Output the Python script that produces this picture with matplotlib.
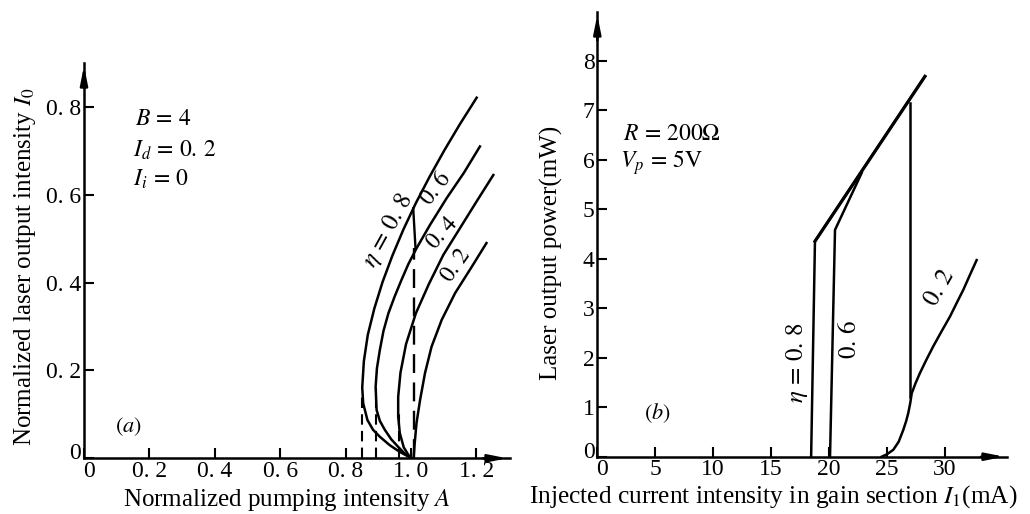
import matplotlib
matplotlib.use('Agg')
import matplotlib.pyplot as plt
from matplotlib.transforms import ScaledTranslation

plt.rcParams['font.family'] = ['Liberation Serif', 'DejaVu Serif']
plt.rcParams['mathtext.fontset'] = 'stix'

# ---- panel (a): normalized output vs pumping intensity ----
a_eta08 = [1.201, 1.150, 1.102, 1.057, 1.015, 0.977, 0.943, 0.913, 0.888, 0.868, 0.856,
           0.851, 0.854, 0.867, 0.884, 0.905, 0.935, 0.965, 1.002]
i_eta08 = [0.821, 0.761, 0.701, 0.641, 0.581, 0.521, 0.461, 0.401, 0.341, 0.281, 0.221,
           0.161, 0.125, 0.087, 0.065, 0.049, 0.030, 0.015, 0.0]

a_eta06 = [1.211, 1.162, 1.109, 1.058, 1.017, 0.992, 0.971, 0.950, 0.931, 0.916, 0.905,
           0.896, 0.892, 0.895, 0.905, 0.920, 0.940, 0.961, 0.982, 1.002]
i_eta06 = [0.710, 0.650, 0.592, 0.531, 0.478, 0.442, 0.406, 0.368, 0.330, 0.290, 0.247,
           0.205, 0.163, 0.110, 0.085, 0.065, 0.043, 0.026, 0.010, 0.0]

a_eta04 = [1.252, 1.201, 1.150, 1.099, 1.055, 1.015, 0.985, 0.968, 0.961, 0.961, 0.966,
           0.978, 0.992, 1.002]
i_eta04 = [0.645, 0.585, 0.524, 0.463, 0.397, 0.330, 0.260, 0.195, 0.140, 0.095, 0.057,
           0.025, 0.008, 0.0]

a_eta02 = [1.231, 1.186, 1.135, 1.094, 1.063, 1.043, 1.028, 1.017, 1.011, 1.008]
i_eta02 = [0.490, 0.436, 0.376, 0.315, 0.254, 0.194, 0.133, 0.080, 0.030, 0.0]

# dashed thresholds: A position and top of each dash
dash_a = [0.851, 0.892, 0.963]
dash_top = [0.150, 0.160, 0.110]
jump_a = 1.010
jump_i = [0.0, 0.478, 0.569]

a_ticks = [0, 0.2, 0.4, 0.6, 0.8, 1.0, 1.2]
a_ticklabels = ['0', '0. 2', '0. 4', '0. 6', '0. 8', '1. 0', '1. 2']
i_ticks = [0, 0.2, 0.4, 0.6, 0.8]
i_ticklabels = ['0', '0. 2', '0. 4', '0. 6', '0. 8']

# ---- panel (b): output power vs injected current ----
cur_eta08 = [18.45, 18.78, 28.27]
pow_eta08 = [0.0, 4.35, 7.68]
cur_eta06 = [20.08, 20.51, 22.81]
pow_eta06 = [0.0, 4.58, 5.73]
cur_eta02 = [24.54, 25.0, 25.54, 26.0, 26.40, 26.65, 26.83, 27.0, 27.13, 27.45, 27.84,
             28.4, 28.99, 29.7, 30.43, 31.0, 31.58, 32.15, 32.73]
pow_eta02 = [0.0, 0.05, 0.14, 0.30, 0.54, 0.72, 0.88, 1.08, 1.28, 1.48, 1.69,
             1.96, 2.23, 2.53, 2.83, 3.10, 3.37, 3.67, 3.97]
jump_cur = 26.98
jump_pow = [1.20, 7.15]

cur_ticks = [0, 5, 10, 15, 20, 25, 30]
pow_ticks = [0, 1, 2, 3, 4, 5, 6, 7, 8]

W, H = 1030, 514
fig = plt.figure(figsize=(W / 100, H / 100), dpi=100)

# axes placed in pixel terms
ax1 = fig.add_axes([84 / W, (H - 458.3) / H, 426 / W, 395.3 / H])
ax2 = fig.add_axes([597.3 / W, (H - 456.7) / H, 409.7 / W, 444.7 / H])


def style_axes(ax):
    for s in ['top', 'right']:
        ax.spines[s].set_visible(False)
    for s in ['left', 'bottom']:
        ax.spines[s].set_linewidth(1.8)
    ax.tick_params(direction='in', length=7, width=1.5, labelsize=17, pad=2)
    # arrow heads on the axes
    ax.annotate('', xy=(1.0, 0), xytext=(0.93, 0), xycoords='axes fraction',
                arrowprops=dict(arrowstyle='-|>,head_length=1.1,head_width=0.22', color='k', lw=1.8))
    ax.annotate('', xy=(0, 1.0), xytext=(0, 0.93), xycoords='axes fraction',
                arrowprops=dict(arrowstyle='-|>,head_length=1.1,head_width=0.22', color='k', lw=1.8))


def nudge_zero_labels(ax):
    # keep the two "0" labels at the origin apart, as in the print
    fig.canvas.draw()
    xl = ax.get_xticklabels()[0]
    xl.set_transform(xl.get_transform() + ScaledTranslation(0.05, 0, fig.dpi_scale_trans))
    yl = ax.get_yticklabels()[0]
    yl.set_transform(yl.get_transform() + ScaledTranslation(0, 0.07, fig.dpi_scale_trans))


lw = 1.8
ax1.plot(a_eta08, i_eta08, color='k', lw=lw)
ax1.plot(a_eta06, i_eta06, color='k', lw=lw)
ax1.plot(a_eta04, i_eta04, color='k', lw=lw)
ax1.plot(a_eta02, i_eta02, color='k', lw=lw)
for a, top in zip(dash_a, dash_top):
    ax1.plot([a, a], [0, top], color='k', lw=1.5, ls=(0, (5, 3)))
ax1.plot([jump_a, jump_a], jump_i[:2], color='k', lw=1.7, ls=(0, (8, 4)))
ax1.plot([jump_a + 0.004, jump_a - 0.003], jump_i[1:], color='k', lw=1.7)

ax1.set_xlim(0, 1.303)
ax1.set_ylim(0, 0.90)
ax1.set_xticks(a_ticks)
ax1.set_xticklabels(a_ticklabels)
ax1.set_yticks(i_ticks)
ax1.set_yticklabels(i_ticklabels)
style_axes(ax1)

ax1.text(0.156, 0.771, r'$B\,=\,4$', fontsize=17, va='center')
ax1.text(0.150, 0.702, r'$I_d\,=\,0.\,2$', fontsize=17, va='center')
ax1.text(0.150, 0.634, r'$I_i\,=\,0$', fontsize=17, va='center')
ax1.text(0.135, 0.072, r'$(a)$', fontsize=16, ha='center', va='center')
ax1.text(0.931, 0.520, r'$\eta\,=\,0.\,8$', fontsize=18, rotation=61, ha='center', va='center')
ax1.text(1.078, 0.615, r'$0.\,6$', fontsize=17, rotation=52, ha='center', va='center')
ax1.text(1.099, 0.513, r'$0.\,4$', fontsize=17, rotation=48, ha='center', va='center')
ax1.text(1.140, 0.440, r'$0.\,2$', fontsize=17, rotation=55, ha='center', va='center')

ax1.text(0.477, -0.105, r'Normalized pumping intensity $A$', fontsize=18,
         ha='center', va='center', transform=ax1.transAxes)
ax1.text(-0.139, 0.484, r'Normalized laser output intensity $I_0$', fontsize=18,
         ha='center', va='center', rotation=90, transform=ax1.transAxes)

ax2.plot(cur_eta08, pow_eta08, color='k', lw=lw)
ax2.plot(cur_eta08[1:], pow_eta08[1:], color='k', lw=2.3)
ax2.plot(cur_eta06, pow_eta06, color='k', lw=lw)
ax2.plot(cur_eta02, pow_eta02, color='k', lw=lw)
ax2.plot([jump_cur, jump_cur], jump_pow, color='k', lw=lw)

ax2.set_xlim(0, 35.35)
ax2.set_ylim(0, 8.98)
ax2.set_xticks(cur_ticks)
ax2.set_yticks(pow_ticks)
style_axes(ax2)

ax2.text(2.22, 6.50, r'$R\,=\,200\Omega$', fontsize=17, va='center')
ax2.text(1.96, 5.93, r'$V_p\,=\,5\mathrm{V}$', fontsize=17, va='center')
ax2.text(5.15, 0.88, r'$(b)$', fontsize=16, ha='center', va='center')
ax2.text(17.23, 1.89, r'$\eta\,=\,0.\,8$', fontsize=18, rotation=90, ha='center', va='center')
ax2.text(21.8, 2.36, r'$0.\,6$', fontsize=18, rotation=90, ha='center', va='center')
ax2.text(29.57, 3.41, r'$0.\,2$', fontsize=18, rotation=60, ha='center', va='center')

ax2.text(0.43, -0.0906, r'Injected current intensity in gain section $I_1$(mA)', fontsize=18.3,
         ha='center', va='center', transform=ax2.transAxes)
ax2.text(-0.111, 0.458, 'Laser output power(mW)', fontsize=18,
         ha='center', va='center', rotation=90, transform=ax2.transAxes)

nudge_zero_labels(ax1)
nudge_zero_labels(ax2)

fig.savefig('out.png', dpi=100)
